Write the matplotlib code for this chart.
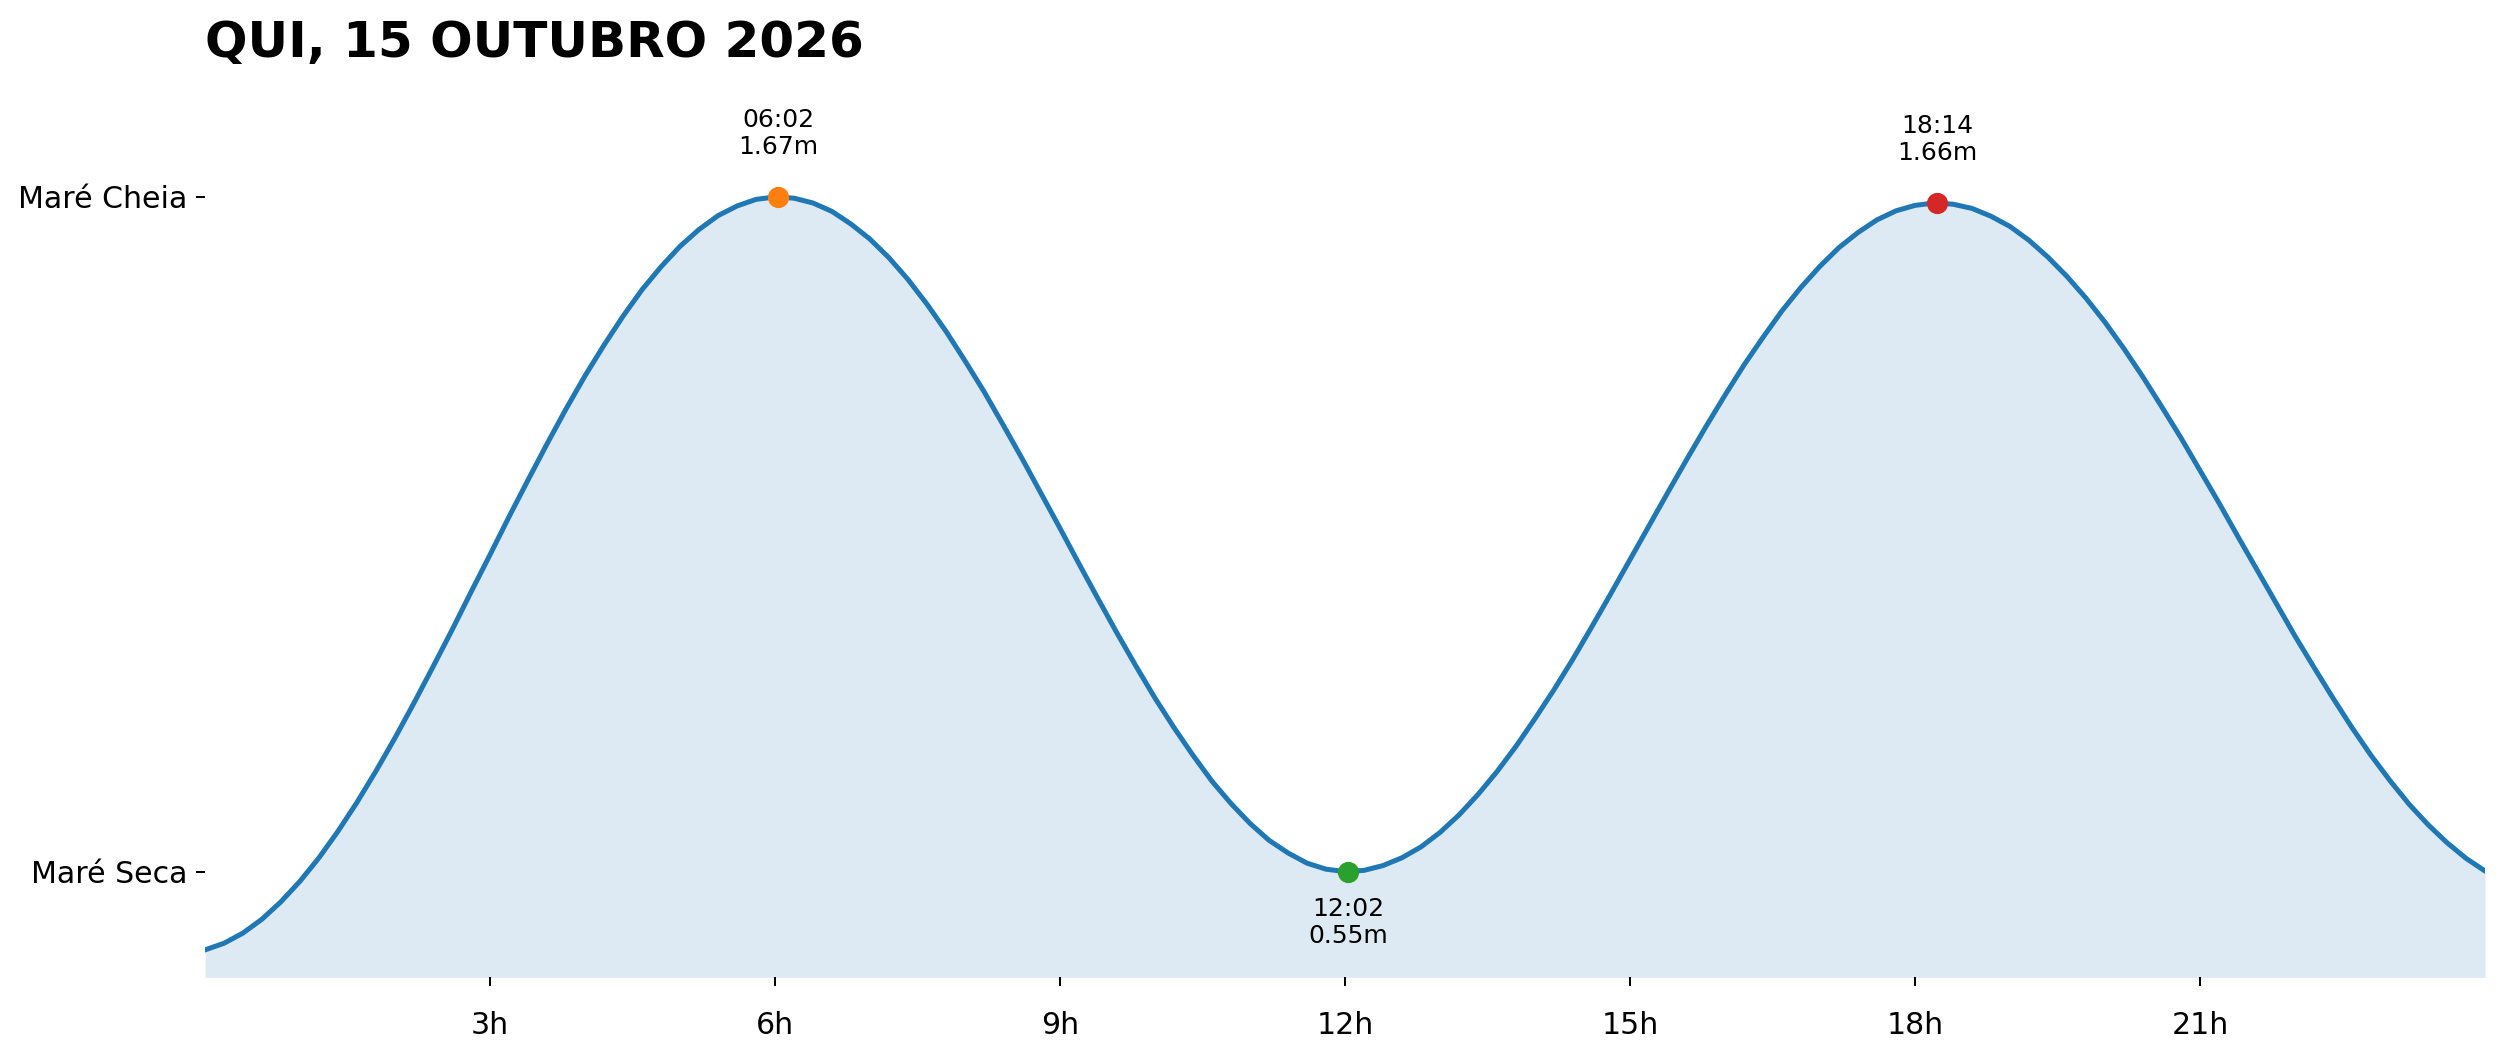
import matplotlib
matplotlib.use("Agg")
import matplotlib.pyplot as plt

# Tide height (m) every 12 minutes, 00:00 -> 24:00
hours = [round(i * 0.2, 1) for i in range(121)]
height = [
    0.420, 0.431, 0.448, 0.471, 0.500, 0.534, 0.573, 0.617, 0.665, 0.717,
    0.772, 0.830, 0.890, 0.951, 1.014, 1.076, 1.139, 1.200, 1.260, 1.318,
    1.373, 1.424, 1.472, 1.516, 1.554, 1.588, 1.616, 1.639, 1.655, 1.666,
    1.670, 1.668, 1.660, 1.646, 1.625, 1.600, 1.569, 1.533, 1.492, 1.447,
    1.398, 1.347, 1.292, 1.236, 1.178, 1.120, 1.061, 1.003, 0.946, 0.891,
    0.838, 0.789, 0.743, 0.700, 0.663, 0.630, 0.602, 0.581, 0.564, 0.554,
    0.550, 0.552, 0.560, 0.573, 0.591, 0.615, 0.644, 0.678, 0.716, 0.758,
    0.804, 0.852, 0.903, 0.957, 1.012, 1.068, 1.124, 1.180, 1.235, 1.289,
    1.341, 1.391, 1.437, 1.481, 1.520, 1.555, 1.586, 1.611, 1.632, 1.647,
    1.656, 1.660, 1.658, 1.651, 1.638, 1.621, 1.598, 1.570, 1.538, 1.502,
    1.462, 1.418, 1.371, 1.321, 1.270, 1.216, 1.162, 1.106, 1.051, 0.996,
    0.941, 0.889, 0.838, 0.789, 0.743, 0.701, 0.662, 0.628, 0.598, 0.572,
    0.551,
]

# high / low water events
event_time = [6 + 2 / 60, 12 + 2 / 60, 18 + 14 / 60]
event_height = [1.67, 0.55, 1.66]
event_label = ["06:02", "12:02", "18:14"]
event_is_high = [True, False, True]
event_color = ["C1", "C2", "C3"]

xticks = [3, 6, 9, 12, 15, 18, 21]
xtick_labels = ["3h", "6h", "9h", "12h", "15h", "18h", "21h"]
ytick_labels = ["Maré Seca", "Maré Cheia"]
title = "QUI, 15 OUTUBRO 2026"

W, H, DPI = 2501, 1062, 180
fig = plt.figure(figsize=(W / DPI, H / DPI), dpi=DPI)
ax = fig.add_axes([205 / W, 1 - 977 / H, 2280 / W, (977 - 76.5) / H])

ax.plot(hours, height, color="C0", lw=2, zorder=2)
ax.fill_between(hours, height, 0, color="C0", alpha=0.15, lw=0, zorder=1)

for t, h, lab, high, col in zip(event_time, event_height, event_label,
                                event_is_high, event_color):
    ax.plot(t, h, "o", color=col, ms=7.5, zorder=3)
    ax.annotate(f"{lab}\n{h:.2f}m", (t, h),
                xytext=(0, 15 if high else -10), textcoords="offset points",
                ha="center", va="bottom" if high else "top", fontsize=10)

ax.set_xlim(0, 24)
ax.set_ylim(0.375, 1.87)

ax.set_xticks(xticks)
ax.set_xticklabels(xtick_labels)
ax.set_yticks([min(event_height), max(event_height)])
ax.set_yticklabels(ytick_labels)
ax.tick_params(axis="both", labelsize=12)
ax.tick_params(axis="x", pad=10)

for s in ax.spines.values():
    s.set_visible(False)

ax.set_title(title, loc="left", fontsize=20, fontweight="bold", pad=8)

fig.savefig("out.png", dpi=DPI)
